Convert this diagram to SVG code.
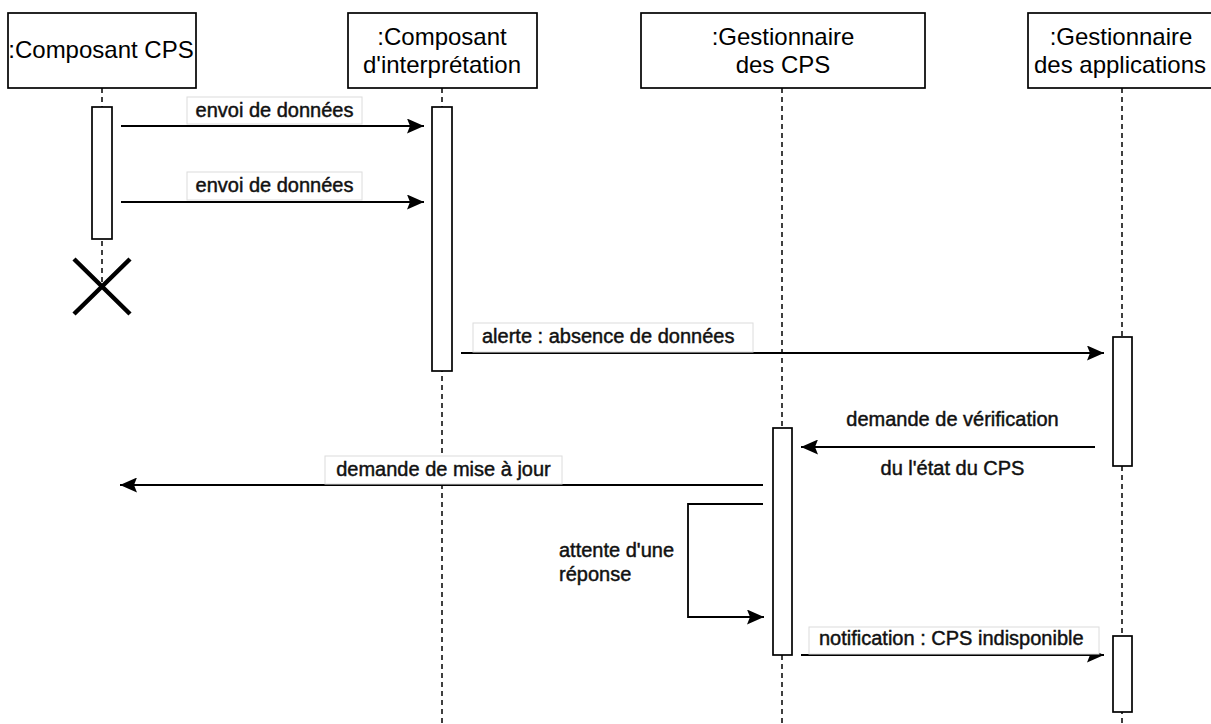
<svg xmlns="http://www.w3.org/2000/svg" width="1211" height="724" viewBox="0 0 1211 724">
<style>
.box{fill:#fff;stroke:#000;stroke-width:1.7}
.life{stroke:#000;stroke-width:1.5;stroke-dasharray:5 4;fill:none}
.act{fill:#fff;stroke:#000;stroke-width:1.7}
.title{font-family:"Liberation Sans",Arial,sans-serif;font-size:24px;fill:#000;text-anchor:middle}
.lbl{font-family:"Liberation Sans",Arial,sans-serif;font-size:20px;fill:#111;stroke:#111;stroke-width:0.45}
.lblbg{fill:#fff;stroke:#dcdcdc;stroke-width:1}
.msg{stroke:#000;stroke-width:1.8;fill:none}
</style>
<defs>
<marker id="arr" markerUnits="userSpaceOnUse" viewBox="0 0 17 15" refX="17" refY="7.5" markerWidth="17" markerHeight="15" orient="auto">
<path d="M0,0 L17,7.5 L0,15 L3,7.5 Z" fill="#000"/>
</marker>
</defs>
<rect width="1211" height="724" fill="#fff"/>
<g id="lifelines">
<line class="life" x1="102" y1="88" x2="102" y2="287"/>
<line class="life" x1="442" y1="88" x2="442" y2="724"/>
<line class="life" x1="782" y1="88" x2="782" y2="724"/>
<line class="life" x1="1122" y1="88" x2="1122" y2="724"/>
</g>
<g id="n1">
<rect class="box" x="8" y="13" width="188" height="75"/>
<text class="title" x="101" y="58">:Composant CPS</text>
<rect class="act" x="92" y="107" width="20" height="132"/>
<path d="M74,259 L130,314 M130,259 L74,314" stroke="#000" stroke-width="4.5" fill="none"/>
</g>
<g id="n2">
<rect class="box" x="348" y="13" width="189" height="75"/>
<text class="title" x="442" y="45">:Composant</text>
<text class="title" x="442" y="73">d'interprétation</text>
<rect class="act" x="432" y="107" width="20" height="264"/>
</g>
<g id="n3">
<rect class="box" x="641" y="13" width="284" height="75"/>
<text class="title" x="783" y="45">:Gestionnaire</text>
<text class="title" x="783" y="73">des CPS</text>
<rect class="act" x="773" y="428" width="19" height="227"/>
</g>
<g id="n4">
<rect class="box" x="1028" y="13" width="189" height="75"/>
<text class="title" x="1121" y="45">:Gestionnaire</text>
<text class="title" x="1120" y="73">des applications</text>
<rect class="act" x="1113" y="337" width="19" height="129"/>
<rect class="act" x="1113" y="636" width="19" height="76"/>
</g>
<g id="connectors">
<line class="msg" x1="121" y1="126" x2="424" y2="126" marker-end="url(#arr)"/>
<rect class="lblbg" x="187" y="97" width="175" height="27"/>
<text class="lbl" x="274.5" y="117" text-anchor="middle">envoi de données</text>
<line class="msg" x1="121" y1="202" x2="424" y2="202" marker-end="url(#arr)"/>
<rect class="lblbg" x="187" y="172" width="175" height="28"/>
<text class="lbl" x="274.5" y="192" text-anchor="middle">envoi de données</text>
<line class="msg" x1="461" y1="353" x2="1104" y2="353" marker-end="url(#arr)"/>
<rect class="lblbg" x="473" y="323" width="280" height="29"/>
<text class="lbl" x="482" y="343">alerte : absence de données</text>
<line class="msg" x1="1095" y1="447" x2="801" y2="447" marker-end="url(#arr)"/>
<text class="lbl" x="952.5" y="426" text-anchor="middle">demande de vérification</text>
<text class="lbl" x="952.5" y="475" text-anchor="middle">du l'état du CPS</text>
<line class="msg" x1="763" y1="485" x2="120" y2="485" marker-end="url(#arr)"/>
<rect class="lblbg" x="325" y="456" width="237" height="28"/>
<text class="lbl" x="443.5" y="476" text-anchor="middle">demande de mise à jour</text>
<path class="msg" d="M763,504 H688 V617 H764" marker-end="url(#arr)"/>
<text class="lbl" x="559" y="557">attente d'une</text>
<text class="lbl" x="559" y="581">réponse</text>
<line class="msg" x1="801" y1="655" x2="1104" y2="655" marker-end="url(#arr)"/>
<rect class="lblbg" x="809" y="627" width="290" height="27"/>
<text class="lbl" x="819" y="645">notification : CPS indisponible</text>
</g>
</svg>
